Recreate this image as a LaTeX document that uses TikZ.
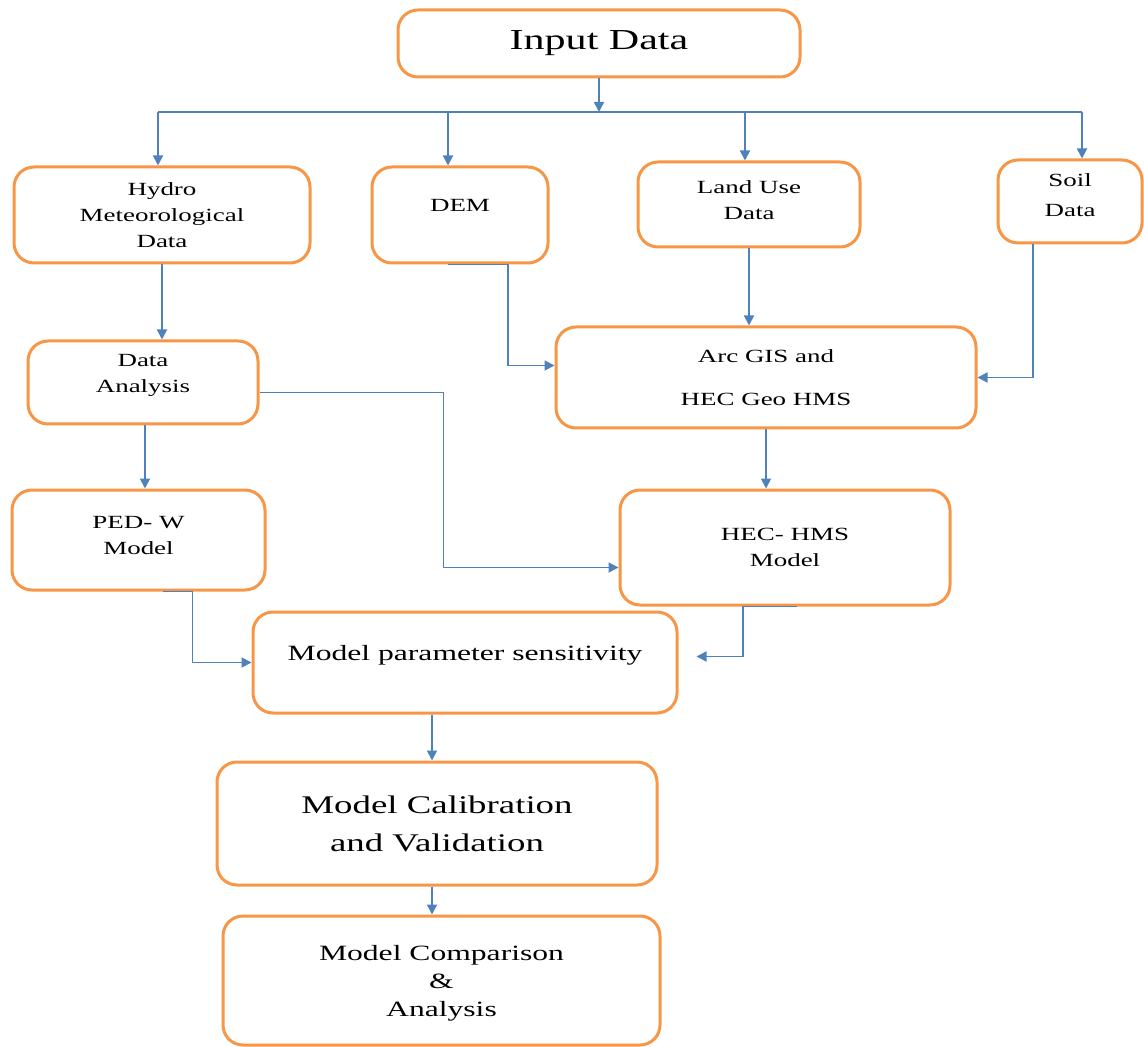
\documentclass[tikz,border=0pt]{standalone}
\usepackage{fontspec}
\setmainfont[FakeStretch=1.45]{Liberation Serif}
\usetikzlibrary{arrows.meta,positioning}
\definecolor{boxorange}{RGB}{247,150,70}
\definecolor{linkblue}{RGB}{79,129,189}
\newcommand{\bodyfont}{\fontsize{9.3}{13}\selectfont}

\begin{document}
\begin{tikzpicture}[x=1pt,y=-1pt,
    every node/.style={align=center},
    box/.style={draw=boxorange,line width=1.5pt,rounded corners=10pt,fill=white,font=\bodyfont},
    link/.style={-{Triangle[length=5pt,width=5pt]},linkblue,line width=0.9pt},
    wire/.style={linkblue,line width=0.9pt}]
    \useasboundingbox (0,0) rectangle (572,523.5);
    % boxes
    \node[box,minimum width=201pt,minimum height=33.5pt,font=\fontsize{14.5}{17}\selectfont] (input) at (299.5,21.75) {Input Data};
    \node[box,minimum width=148pt,minimum height=48pt] (hydro) at (81,107.5) {Hydro\\Meteorological\\Data};
    \node[box,minimum width=88pt,minimum height=48pt,text depth=10pt] (dem) at (230,107.5) {DEM};
    \node[box,minimum width=111pt,minimum height=42.5pt,text depth=4.5pt] (landuse) at (374.5,102.25) {Land Use\\Data};
    \node[box,minimum width=72pt,minimum height=41.5pt,text depth=6pt] (soil) at (535,100.75) {Soil\\[2pt]Data};
    \node[box,minimum width=115pt,minimum height=41.5pt,text depth=9pt] (analysis) at (71.5,191.25) {Data\\Analysis};
    \node[box,minimum width=210pt,minimum height=50.5pt] (arcgis) at (383,188.75) {Arc GIS and\\[8.5pt] HEC Geo HMS};
    \node[box,minimum width=126.5pt,minimum height=50pt,text depth=4.5pt] (pedw) at (69.25,270) {PED- W\\Model};
    \node[box,minimum width=165pt,minimum height=57.5pt] (hechms) at (392.5,273.75) {HEC- HMS\\Model};
    \node[box,minimum width=212pt,minimum height=50.5pt,text depth=9.5pt,font=\fontsize{10.9}{14}\selectfont] (sensitivity) at (232.5,331.25) {Model parameter sensitivity};
    \node[box,minimum width=220pt,minimum height=61.5pt,font=\fontsize{12.7}{19}\selectfont] (calib) at (218.5,411.75) {Model Calibration\\and Validation};
    \node[box,minimum width=218.5pt,minimum height=64.5pt,text depth=0pt,font=\fontsize{10.9}{14}\selectfont] (compare) at (220.75,490.25) {Model Comparison\\\&\\Analysis};
    % input data fans out
    \coordinate (bus) at (input.south |- 0,56);
    \draw[link] (input.south) -- (bus);
    \draw[wire] ([xshift=-2pt]hydro.north |- bus) -- ([xshift=6pt]soil.north |- bus);
    \draw[link] ([xshift=-2pt]hydro.north |- bus) -- ([xshift=-2pt]hydro.north);
    \draw[link] ([xshift=-6pt]dem.north |- bus) -- ([xshift=-6pt]dem.north);
    \draw[link] ([xshift=-2pt]landuse.north |- bus) -- ([xshift=-2pt]landuse.north);
    \draw[link] ([xshift=6pt]soil.north |- bus) -- ([xshift=6pt]soil.north);
    % into arc gis
    \draw[link] ([xshift=-6pt]dem.south) -- ++(30,0) |- ([yshift=6pt]arcgis.west);
    \draw[link] (landuse.south) -- (landuse.south |- arcgis.north);
    \draw[link] ([xshift=-18.5pt]soil.south) |- (arcgis.east);
    % models
    \draw[link] (hydro.south) -- (hydro.south |- analysis.north);
    \draw[link] ([xshift=1pt]analysis.south) -- ([xshift=1pt]analysis.south |- pedw.north);
    \draw[link] ([yshift=-5pt]analysis.east) -- ++(92,0) |- ([yshift=-10pt]hechms.west);
    \draw[link] (arcgis.south) -- (arcgis.south |- hechms.north);
    \draw[link] ([xshift=12pt]pedw.south) -- ++(15,0) |- (sensitivity.west);
    \draw[link,shorten >=9pt] ([xshift=6pt]hechms.south) -- ++(-27,0) |- ([yshift=3pt]sensitivity.east);
    \draw[link] ([xshift=-16.5pt]sensitivity.south) -- ([xshift=-2.5pt]calib.north);
    \draw[link] ([xshift=-2.5pt]calib.south) -- ([xshift=-4.75pt]compare.north);
\end{tikzpicture}
\end{document}
